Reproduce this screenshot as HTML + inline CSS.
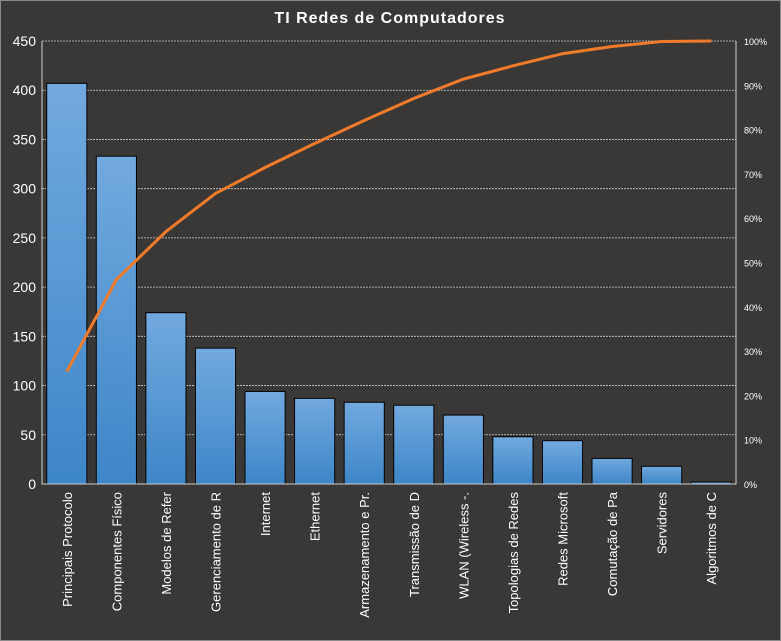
<!DOCTYPE html>
<html><head><meta charset="utf-8"><style>
body{margin:0;background:#3a3836;}
svg{display:block;font-family:"Liberation Sans",sans-serif;}
</style></head><body>
<svg id="chart" width="781" height="641">
<defs><linearGradient id="bg" x1="0" y1="0" x2="0" y2="1"><stop offset="0" stop-color="#72a9df"/><stop offset="1" stop-color="#3d86c8"/></linearGradient></defs>
<rect x="0.5" y="0.5" width="780" height="640" fill="#3a3836" stroke="#8a8a8a"/>
<text x="390" y="23" text-anchor="middle" fill="#fff" font-size="16" font-weight="bold" letter-spacing="1">TI Redes de Computadores</text>
<g id="g"></g>
</svg>
<script>
const categories=["Principais Protocolo","Componentes Físico","Modelos de Refer","Gerenciamento de R","Internet","Ethernet","Armazenamento  e Pr.","Transmissão de D","WLAN (Wireless -.","Topologias de Redes","Redes Microsoft","Comutação de Pa","Servidores","Algoritmos de C"];
const values=[407,333,174,138,94,87,83,80,70,48,44,26,18,2];
const leftTicks=[0,50,100,150,200,250,300,350,400,450];
const rightTicks=[0,10,20,30,40,50,60,70,80,90,100];
const NS="http://www.w3.org/2000/svg";
const g=document.getElementById('g');
const L=42,R=736,T=41,B=484;
const y=v=>B-(v/450)*(B-T);
const yp=p=>B-(p/100)*(B-T);
const band=(R-L)/categories.length;
const xc=i=>L+band*(i+0.5);
function mk(t,a,txt){const e=document.createElementNS(NS,t);for(const k in a)e.setAttribute(k,a[k]);if(txt!==undefined)e.textContent=txt;g.appendChild(e);return e;}
leftTicks.forEach(v=>{
 if(v>0){const l=mk('line',{x1:L,x2:R,y1:y(v),y2:y(v),stroke:'#cfcfcf','stroke-dasharray':'2,1','stroke-width':0.8});
 
 }
 const t=mk('text',{x:36,y:y(v)+5,'text-anchor':'end',fill:'#fff','font-size':14},v);
 
 
});
rightTicks.forEach(p=>{
 const t=mk('text',{x:744,y:yp(p)+4,fill:'#fff','font-size':9},p+'%');
 
 
});
values.forEach((v,i)=>{
 const bw=band*0.81;
 const r=mk('rect',{x:xc(i)-bw/2,y:y(v),width:bw,height:B-y(v),fill:'url(#bg)',stroke:'#000','stroke-width':1});
 
 
 const t=mk('text',{x:0,y:0,'text-anchor':'end',fill:'#fff','font-size':13,transform:`translate(${xc(i)+5},492) rotate(-90)`},categories[i]);
 
 
});
const ax=mk('path',{d:`M${L},${T} V${B} H${R} V${T}`,fill:'none',stroke:'#cfcfcf','stroke-width':1});


const total=values.reduce((a,b)=>a+b,0);let cum=0;
const pts=values.map((v,i)=>{cum+=v;return xc(i)+','+yp(cum/total*100);});
const line=mk('polyline',{points:pts.join(' '),fill:'none',stroke:'#f07b2a','stroke-width':3,'stroke-linejoin':'round'});


</script>
</body></html>
